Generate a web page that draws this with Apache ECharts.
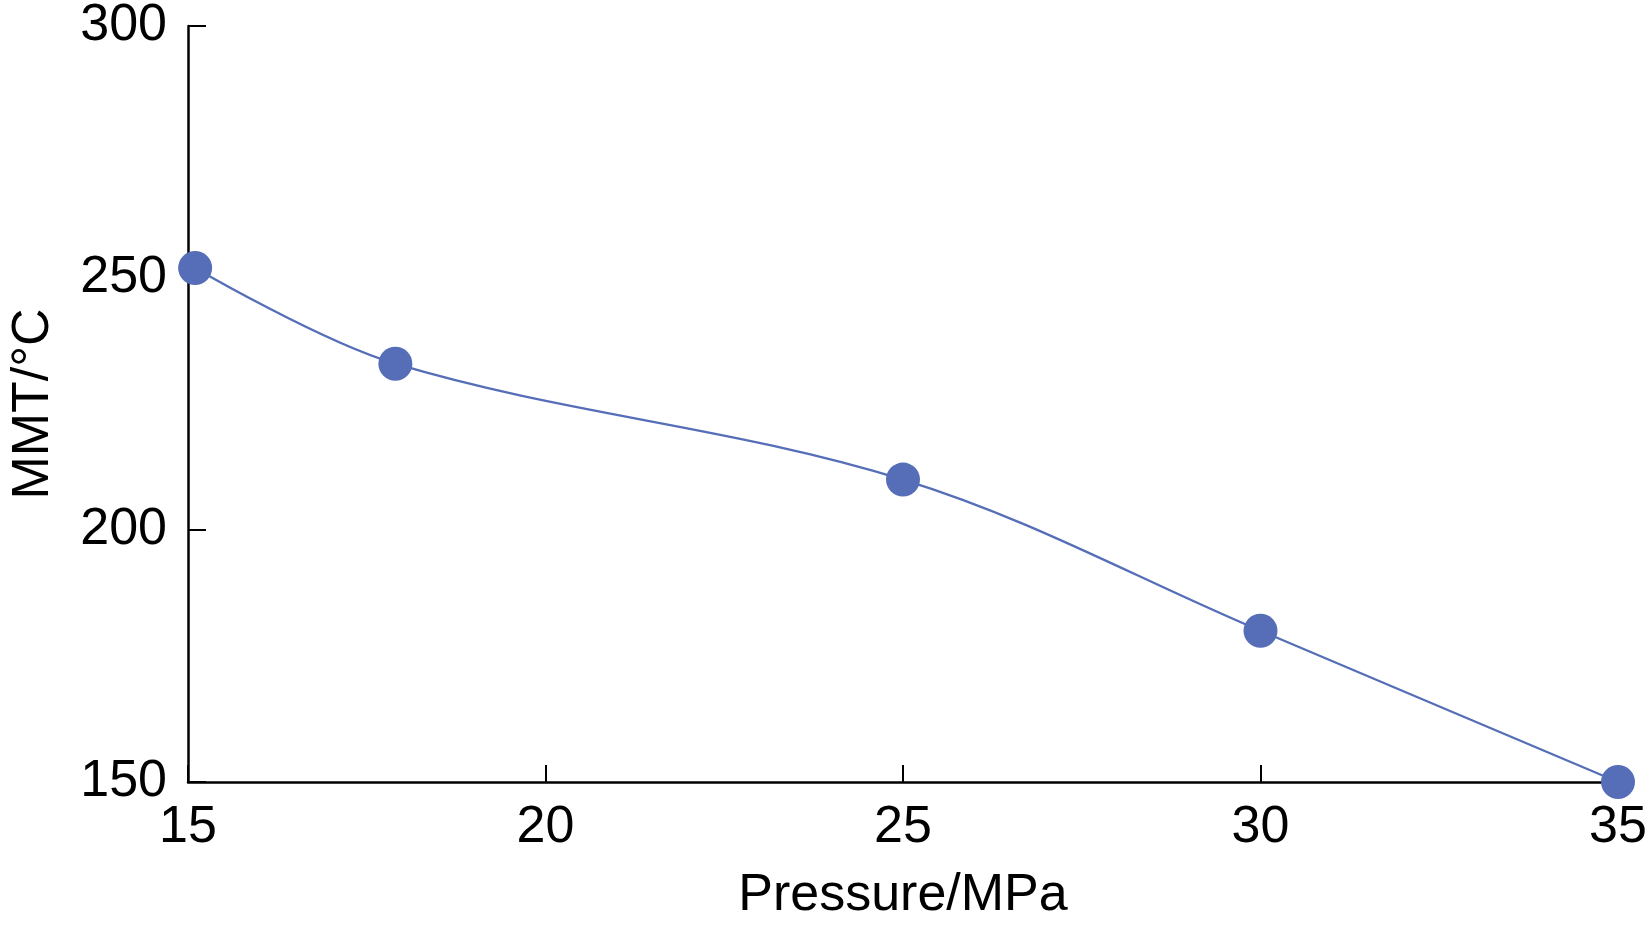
<!DOCTYPE html>
<html>
<head>
<meta charset="utf-8">
<script src="https://cdn.jsdelivr.net/npm/echarts@6/dist/echarts.min.js"></script>
<style>
html,body{margin:0;padding:0;background:#fff;}
#chart{width:1652px;height:930px;}
</style>
</head>
<body>
<div id="chart"></div>
<script>
const pressure = [15.1, 17.9, 25.0, 30.0, 35.0];
const mmt = [252, 233, 210, 180, 150];
const xTicks = [15, 20, 25, 30, 35];
const yTicks = [150, 200, 250, 300];
const xName = 'Pressure/MPa';
const yName = 'MMT/°C';

const chart = echarts.init(document.getElementById('chart'));
const font = 'Liberation Sans, Arial, sans-serif';
chart.setOption({
  animation: false,
  backgroundColor: '#fff',
  grid: { left: 181, right: 34, top: 22, bottom: 148, containLabel: false },
  xAxis: {
    type: 'value', min: xTicks[0], max: xTicks[xTicks.length - 1], interval: 5,
    name: xName, nameLocation: 'middle', nameGap: 88,
    nameTextStyle: { color: '#000', fontSize: 52, fontFamily: font },
    axisLine: { show: true, onZero: false, lineStyle: { color: '#000', width: 2.5 } },
    axisTick: { show: true, inside: true, length: 17, lineStyle: { color: '#000', width: 2 } },
    axisLabel: { color: '#000', fontSize: 52, fontFamily: font, margin: 20 },
    splitLine: { show: false }
  },
  yAxis: {
    type: 'value', min: yTicks[0], max: yTicks[yTicks.length - 1], interval: 50,
    name: yName, nameLocation: 'middle', nameGap: 128, nameRotate: 90,
    nameTextStyle: { color: '#000', fontSize: 52, fontFamily: font },
    axisLine: { show: true, onZero: false, lineStyle: { color: '#000', width: 2.5 } },
    axisTick: { show: true, inside: true, length: 18, lineStyle: { color: '#000', width: 2 } },
    axisLabel: { color: '#000', fontSize: 52, fontFamily: font, margin: 21 },
    splitLine: { show: false }
  },
  series: [{
    type: 'line',
    data: pressure.map((p, i) => [p, mmt[i]]),
    smooth: 0.35,
    symbol: 'circle', symbolSize: 34,
    itemStyle: { color: '#556eb7' },
    lineStyle: { color: '#556eb7', width: 2.3 },
    clip: false
  }]
});
</script>
</body>
</html>
